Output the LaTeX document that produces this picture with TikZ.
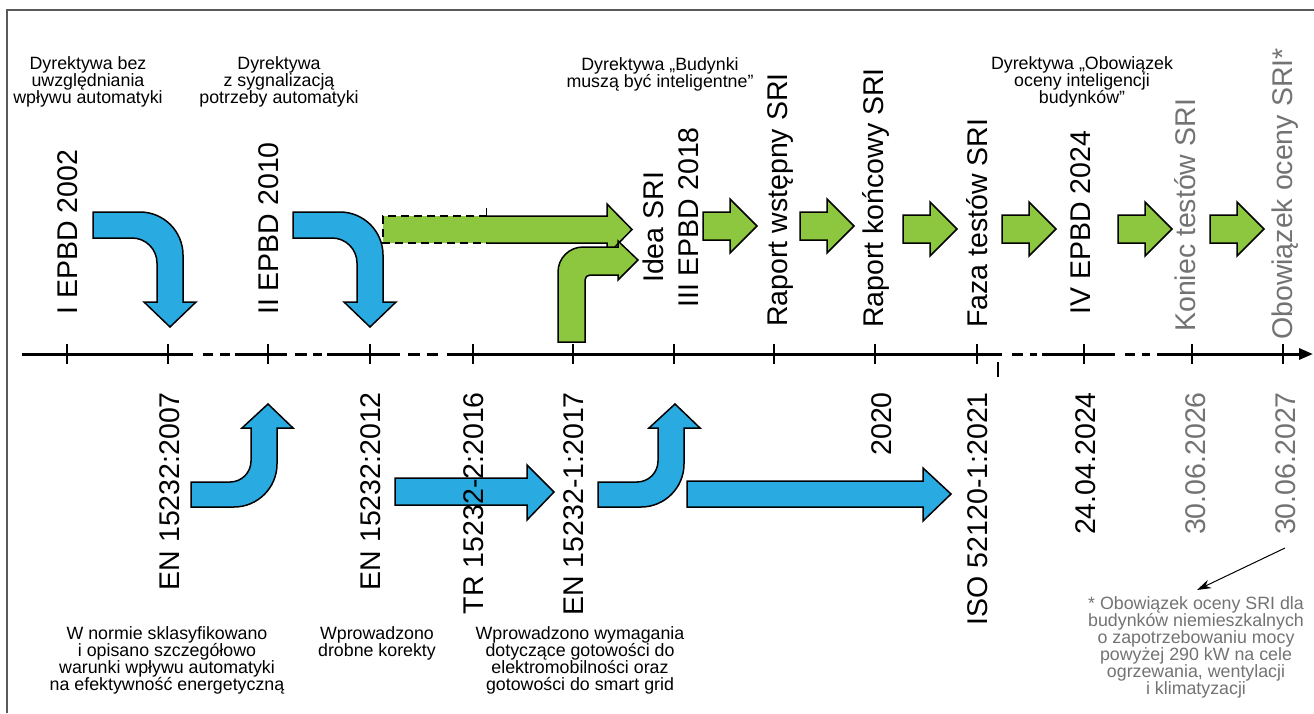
\documentclass[tikz,border=0pt]{standalone}
\usepackage{fontspec}
\setmainfont{Liberation Sans}
\usetikzlibrary{arrows.meta}
\definecolor{arrowblue}{RGB}{41,171,226}
\definecolor{arrowgreen}{RGB}{141,198,63}
\definecolor{softgraytext}{RGB}{115,115,115}
\definecolor{framegray}{RGB}{90,90,90}
\begin{document}
\begin{tikzpicture}[x=1pt,y=-1pt,
  blueshape/.style={fill=arrowblue,draw=black,line width=1.5pt,line join=miter},
  greenshape/.style={fill=arrowgreen,draw=black,line width=1.5pt,line join=miter},
  axisline/.style={line width=3pt},
  tickline/.style={line width=1.5pt},
  biglabel/.style={rotate=90,inner sep=0pt,font=\fontsize{28.5}{30}\selectfont},
  glabel/.style={biglabel,text=softgraytext},
  note/.style={align=center,inner sep=0pt,font=\fontsize{17.8}{17}\selectfont},
  gnote/.style={note,text=softgraytext},
  garrow/.pic={\path[greenshape] (0,-14) -- (27,-14) -- (27,-27) -- (54,0) -- (27,27) -- (27,14) -- (0,14) -- cycle;}
]
\fill[white] (0,0) rectangle (1314,713);
\useasboundingbox (0,0) rectangle (1314,713);
% frame
\draw[framegray,line width=1.2pt] (7,713) -- (7,10) -- (1314,10);

% axis
\draw[axisline] (22,354) -- (193,354);
\draw[axisline] (203,354) -- (213,354) (220,354) -- (230,354);
\draw[axisline] (235,354) -- (287,354);
\draw[axisline] (295,354) -- (307,354) (313,354) -- (322,354);
\draw[axisline] (327,354) -- (400,354);
\draw[axisline] (408,354) -- (420,354) (427,354) -- (438,354);
\draw[axisline] (447,354) -- (1002,354);
\draw[axisline] (1012,354) -- (1023,354) (1030,354) -- (1037,354);
\draw[axisline] (1042,354) -- (1115,354);
\draw[axisline] (1125,354) -- (1135,354) (1142,354) -- (1150,354);
\draw[axisline,-{Triangle[length=14pt,width=11pt]}] (1157,354) -- (1313,354);
\foreach \t in {67,168,268,370,473,573,674,774,875,977,1084,1192,1283}
  \draw[tickline] (\t,344) -- (\t,364);
\draw[line width=1.2pt] (998,362) -- (998,377);

% blue curved arrows (top, turning down)
\path[blueshape] (93,212) -- (140,212) .. controls (163.7,212) and (183,231.3) .. (183,255) -- (183,302) -- (196,302) -- (170,327) -- (144,302) -- (157,302) -- (157,263) .. controls (157,249.2) and (145.8,238) .. (132,238) -- (93,238) -- cycle;
\begin{scope}[shift={(200,0)}]
\path[blueshape] (93,212) -- (140,212) .. controls (163.7,212) and (183,231.3) .. (183,255) -- (183,302) -- (196,302) -- (170,327) -- (144,302) -- (157,302) -- (157,263) .. controls (157,249.2) and (145.8,238) .. (132,238) -- (93,238) -- cycle;
\end{scope}

% blue curved arrows (bottom, turning up)
\path[blueshape] (191,482) -- (230,482) .. controls (241.6,482) and (251,472.6) .. (251,461) -- (251,428) -- (242,428) -- (268,404) -- (293,428) -- (277,428) -- (277,464) .. controls (277,487.7) and (257.7,507) .. (234,507) -- (191,507) -- cycle;
\begin{scope}[shift={(407,0)}]
\path[blueshape] (191,482) -- (230,482) .. controls (241.6,482) and (251,472.6) .. (251,461) -- (251,428) -- (242,428) -- (268,404) -- (293,428) -- (277,428) -- (277,464) .. controls (277,487.7) and (257.7,507) .. (234,507) -- (191,507) -- cycle;
\end{scope}

% blue straight arrows
\path[blueshape] (395,478) -- (527,478) -- (527,465) -- (554,492) -- (527,520) -- (527,505) -- (395,505) -- cycle;
\path[blueshape] (687,481) -- (923,481) -- (923,468) -- (951,494) -- (923,521) -- (923,507) -- (687,507) -- cycle;

% green dashed arrow
\fill[arrowgreen] (383,216) -- (607,216) -- (607,204) -- (632,229.5) -- (607,255) -- (607,243) -- (383,243) -- cycle;
\draw[line width=1.5pt,line join=miter] (487,216) -- (607,216) -- (607,204) -- (632,229.5) -- (607,255) -- (607,243) -- (487,243);
\draw[line width=1.5pt,dash pattern=on 8pt off 5pt] (487,216) -- (383,216) -- (383,243) -- (487,243);
\draw[line width=1pt] (486,208) -- (486,216);

% green curved arrow (drawn over the dashed one)
\path[greenshape] (558,342) -- (558,272) .. controls (558,258.2) and (569.2,247) .. (583,247) -- (618,247) -- (618,241) -- (638,260) -- (618,280) -- (618,275) -- (590,275) .. controls (587.2,275) and (585,277.2) .. (585,280) -- (585,342) -- cycle;

% small green arrows
\pic at (703,226) {garrow};
\pic at (800,226) {garrow};
\pic at (903,229) {garrow};
\pic at (1002,229) {garrow};
\pic at (1118,229) {garrow};
\pic at (1210,229) {garrow};

% top vertical labels
\node[biglabel,anchor=base west] (l1) at (77.2,315) {I EPBD 2002};
\node[biglabel,anchor=base west] (l2) at (278.2,315) {II EPBD 2010};
\node[biglabel,anchor=base west] (l3) at (663.2,283) {Idea SRI};
\node[biglabel,anchor=base west] (l4) at (698.2,308) {III EPBD 2018};
\node[biglabel,anchor=base west] (l5) at (787.2,327) {Raport wstępny SRI};
\node[biglabel,anchor=base west] (l6) at (883.2,328) {Raport końcowy SRI};
\node[biglabel,anchor=base west] (l7) at (987.2,328) {Faza testów SRI};
\node[biglabel,anchor=base west] (l8) at (1090.2,315) {IV EPBD 2024};
\node[glabel,anchor=base west] (l9) at (1195.2,332) {Koniec testów SRI};
\node[glabel,anchor=base west] (l10) at (1292.2,340) {Obowiązek oceny SRI*};

% bottom vertical labels
\node[biglabel,anchor=base east] (d1) at (179.2,392) {EN 15232:2007};
\node[biglabel,anchor=base east] (d2) at (380.2,392) {EN 15232:2012};
\node[biglabel,anchor=base east] (d3) at (483.2,392) {TR 15232-2:2016};
\node[biglabel,anchor=base east] (d4) at (583.2,392) {EN 15232-1:2017};
\node[biglabel,anchor=base east] (d5) at (891.2,392) {2020};
\node[biglabel,anchor=base east] (d6) at (987.2,392) {ISO 52120-1:2021};
\node[biglabel,anchor=base east] (d7) at (1095.2,392) {24.04.2024};
\node[glabel,anchor=base east] (d8) at (1205.2,392) {30.06.2026};
\node[glabel,anchor=base east] (d9) at (1295.2,392) {30.06.2027};

% top notes
\node[note] (t1) at (88,82) {Dyrektywa bez\\uwzględniania\\wpływu automatyki};
\node[note] (t2) at (279,82) {Dyrektywa\\z sygnalizacją\\potrzeby automatyki};
\node[note] (t3) at (660,74) {Dyrektywa „Budynki\\muszą być inteligentne”};
\node[note] (t4) at (1082,82) {Dyrektywa „Obowiązek\\oceny inteligencji\\budynków”};

% bottom notes
\node[note] (b1) at (167,660) {W normie sklasyfikowano\\i opisano szczegółowo\\warunki wpływu automatyki\\na efektywność energetyczną};
\node[note] (b2) at (377,643) {Wprowadzono\\drobne korekty};
\node[note] (b3) at (580,660) {Wprowadzono wymagania\\dotyczące gotowości do\\elektromobilności oraz\\gotowości do smart grid};
\node[gnote] (fn) at (1196,647) {* Obowiązek oceny SRI dla\\budynków niemieszkalnych\\o zapotrzebowaniu mocy\\powyżej 290 kW na cele\\ogrzewania, wentylacji\\i klimatyzacji};

% footnote pointer
\coordinate (fnstart) at (1285,548);
\coordinate (fnend) at (1197,590);
\draw[line width=1pt,-{Stealth[length=14pt,width=9pt]}] (fnstart) -- (fnend);
\end{tikzpicture}
\end{document}
